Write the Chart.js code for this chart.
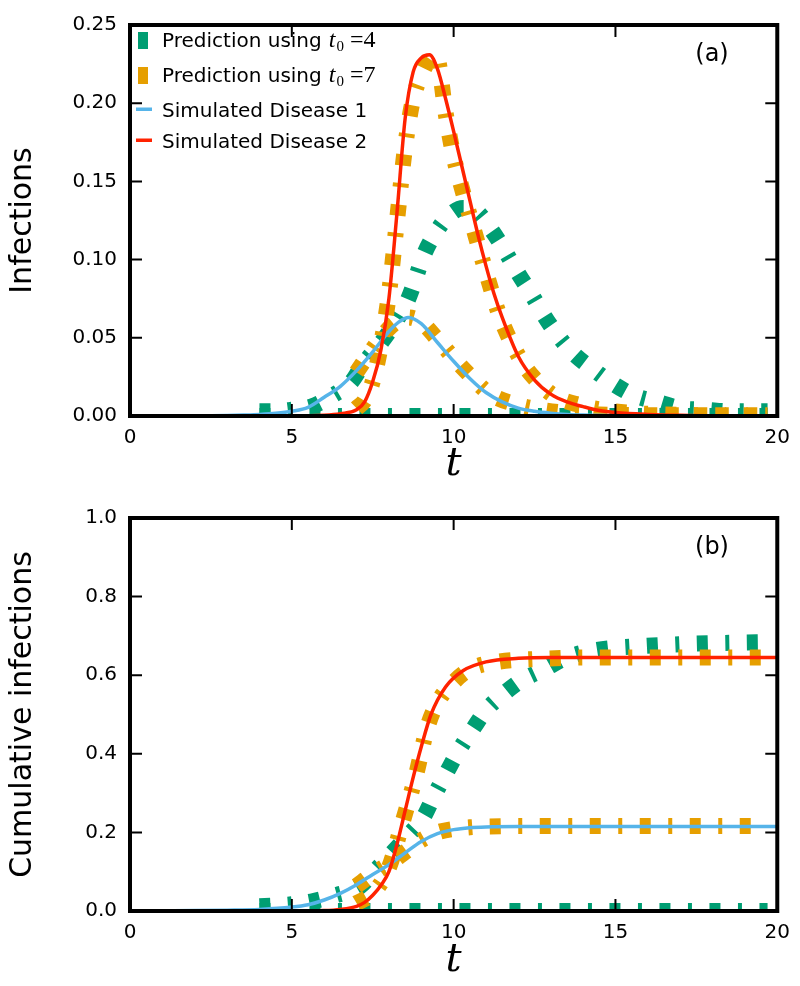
<!DOCTYPE html>
<html>
<head>
<meta charset="utf-8">
<script src="https://cdn.jsdelivr.net/npm/chart.js@4.4.1/dist/chart.umd.min.js"></script>
<style>
  body { margin: 0; background: #fff; }
  canvas { position: absolute; left: 0; }
</style>
</head>
<body>
<canvas id="panelA" width="800" height="493" style="top:0px"></canvas>
<canvas id="panelB" width="800" height="493" style="top:493px"></canvas>
<script>
// colours
const teal = '#009E73';
const orange = '#E69F00';
const blue = '#56B4E9';
const red = '#FF2200';

// axis ticks
const xTickVals = [0, 5, 10, 15, 20];
const yTickValsA = [0, 0.05, 0.1, 0.15, 0.2, 0.25];
const yTickValsB = [0, 0.2, 0.4, 0.6, 0.8, 1.0];

// (a) infections
const tSim1 = [0, 1, 2, 2.5, 3, 3.5, 4, 4.5, 5, 5.5, 6, 6.5, 7, 7.5, 8, 8.3, 8.6, 9, 9.5, 10, 10.5, 11, 11.5, 12, 12.5, 13, 13.5, 14, 15, 16, 18, 20];
const infSim1 = [0, 0, 0, 0.0001, 0.0003, 0.0006, 0.001, 0.0017, 0.003, 0.0055, 0.012, 0.019, 0.029, 0.041, 0.054, 0.060, 0.063, 0.059, 0.047, 0.035, 0.024, 0.015, 0.009, 0.005, 0.003, 0.0018, 0.001, 0.0006, 0.0002, 0.0001, 0, 0];

const tSim2 = [0, 5, 6, 6.5, 7, 7.25, 7.5, 7.75, 8, 8.25, 8.5, 8.75, 9, 9.25, 9.5, 9.75, 10, 10.25, 10.5, 10.75, 11, 11.25, 11.5, 12, 12.5, 13, 13.5, 14, 14.5, 15, 16, 17, 18, 20];
const infSim2 = [0, 0, 0.0005, 0.0015, 0.004, 0.009, 0.022, 0.042, 0.075, 0.13, 0.19, 0.22, 0.229, 0.231, 0.222, 0.203, 0.182, 0.160, 0.138, 0.116, 0.096, 0.078, 0.063, 0.038, 0.023, 0.014, 0.009, 0.006, 0.0035, 0.0022, 0.001, 0.0004, 0.0002, 0];

const tPred4 = [4, 4.5, 5, 5.6, 6.25, 6.85, 7.2, 7.8, 8.2, 8.6, 9.1, 9.5, 9.9, 10.3, 10.7, 11.2, 11.6, 12.0, 12.4, 12.8, 13.2, 13.7, 14.3, 14.9, 15.6, 16.3, 17.0, 17.8, 18.5, 19.2, 19.7];
const infPred4 = [0.003, 0.003, 0.004, 0.006, 0.013, 0.022, 0.033, 0.048, 0.060, 0.075, 0.104, 0.119, 0.129, 0.133, 0.131, 0.118, 0.105, 0.091, 0.078, 0.064, 0.052, 0.040, 0.030, 0.021, 0.013, 0.009, 0.005, 0.004, 0.003, 0.003, 0.003];

const tPred4Zero = [4, 8, 12, 16, 19.7];
const infPred4Zero = [0, 0, 0, 0, 0];

const tPred7a = [7, 7.5, 8, 8.3, 8.6, 9, 9.5, 10, 10.5, 11, 11.3, 12, 12.7, 13.5, 14.5, 16, 18, 19.7];
const infPred7a = [0.028, 0.043, 0.056, 0.061, 0.063, 0.060, 0.049, 0.037, 0.026, 0.016, 0.012, 0.007, 0.004, 0.002, 0.001, 0.0005, 0.0005, 0.0005];

const tPred7b = [7, 7.25, 7.5, 7.75, 8, 8.25, 8.5, 8.75, 9, 9.25, 9.4, 9.5, 9.75, 10, 10.25, 10.5, 10.75, 11, 11.44, 12.1, 12.5, 13.1, 13.9, 14.6, 15.5, 16.5, 18, 19.7];
const infPred7b = [0.005, 0.010, 0.022, 0.045, 0.078, 0.125, 0.172, 0.203, 0.218, 0.228, 0.231, 0.229, 0.194, 0.166, 0.146, 0.128, 0.110, 0.092, 0.063, 0.035, 0.024, 0.013, 0.007, 0.004, 0.002, 0.001, 0.0005, 0.0005];

// (b) cumulative infections
const tCum1 = [0, 2, 3, 4, 5, 5.5, 6, 6.5, 7, 7.5, 8, 8.5, 9, 9.5, 10, 10.5, 11, 12, 20];
const cumSim1 = [0, 0.001, 0.002, 0.004, 0.010, 0.016, 0.028, 0.045, 0.067, 0.093, 0.118, 0.148, 0.177, 0.197, 0.207, 0.212, 0.214, 0.215, 0.215];

const tCum2 = [0, 5, 6, 6.5, 7, 7.25, 7.5, 7.75, 8, 8.25, 8.5, 8.75, 9, 9.3, 9.75, 10.3, 11, 12, 13, 20];
const cumSim2 = [0, 0, 0.001, 0.004, 0.012, 0.022, 0.04, 0.065, 0.1, 0.17, 0.255, 0.34, 0.418, 0.5, 0.57, 0.612, 0.634, 0.643, 0.645, 0.645];

const tCumPred4 = [4, 4.5, 5, 5.6, 6.35, 7.1, 7.6, 8.1, 8.6, 9.07, 9.4, 9.78, 10.17, 10.61, 11.0, 11.55, 12.1, 12.82, 13.49, 14.26, 15.0, 15.8, 17.35, 18.9, 19.7];
const cumPred4 = [0.012, 0.014, 0.017, 0.024, 0.04, 0.062, 0.105, 0.148, 0.193, 0.239, 0.294, 0.352, 0.41, 0.465, 0.511, 0.553, 0.587, 0.616, 0.645, 0.662, 0.670, 0.674, 0.680, 0.683, 0.684];

const tCumPred4Zero = [4, 8, 12, 16, 19.7];
const cumPred4Zero = [0, 0, 0, 0, 0];

const tCumPred7a = [7, 7.5, 8, 8.5, 9, 9.5, 10, 10.5, 11, 12, 19.7];
const cumPred7a = [0.064, 0.094, 0.12, 0.15, 0.18, 0.2, 0.209, 0.213, 0.215, 0.216, 0.216];

const tCumPred7b = [7, 7.5, 8, 8.4, 8.85, 9.18, 9.5, 9.95, 10.5, 11.28, 12.82, 14, 19.7];
const cumPred7b = [0.02, 0.045, 0.11, 0.22, 0.35, 0.465, 0.53, 0.578, 0.615, 0.633, 0.642, 0.645, 0.645];

const pts = (ts, vs) => ts.map((t, i) => ({ x: t, y: vs[i] }));

// thick dash-dot look: block, gap, thin tick, gap
const predDash = [11, 17.5, 4, 17.5];

function predSet(color, ts, vs, order) {
    return {
        data: pts(ts, vs),
        borderColor: color,
        borderWidth: 16,
        borderDash: predDash,
        borderCapStyle: 'butt',
        order: order
    };
}

function simSet(color, ts, vs, order) {
    return {
        data: pts(ts, vs),
        borderColor: color,
        borderWidth: 3.5,
        order: order
    };
}

const legendRows = [
    { kind: 'block', color: teal, text: 'Prediction using', sub: '4' },
    { kind: 'block', color: orange, text: 'Prediction using', sub: '7' },
    { kind: 'line', color: blue, text: 'Simulated Disease 1' },
    { kind: 'line', color: red, text: 'Simulated Disease 2' }
];
const legendBaselines = [47, 82, 117, 148];

// frame, inward ticks, panel tag and legend
const framePlugin = {
    id: 'frame',
    afterDatasetsDraw(chart, args, opts) {
        const { ctx, chartArea: a, scales: { x, y } } = chart;
        ctx.save();
        ctx.strokeStyle = '#000';
        ctx.lineWidth = 2;
        const len = 12;
        x.ticks.forEach(t => {
            const px = x.getPixelForValue(t.value);
            ctx.beginPath();
            ctx.moveTo(px, a.bottom); ctx.lineTo(px, a.bottom - len);
            ctx.moveTo(px, a.top); ctx.lineTo(px, a.top + len);
            ctx.stroke();
        });
        y.ticks.forEach(t => {
            const py = y.getPixelForValue(t.value);
            ctx.beginPath();
            ctx.moveTo(a.left, py); ctx.lineTo(a.left + len, py);
            ctx.moveTo(a.right, py); ctx.lineTo(a.right - len, py);
            ctx.stroke();
        });
        ctx.lineWidth = 4;
        ctx.strokeRect(a.left, a.top, a.right - a.left, a.bottom - a.top);

        ctx.fillStyle = '#000';
        ctx.font = '24px "DejaVu Sans"';
        ctx.textAlign = 'center';
        ctx.textBaseline = 'middle';
        ctx.fillText(opts.tag, 712, a.top + 30);

        if (opts.legend) {
            ctx.textAlign = 'left';
            ctx.textBaseline = 'alphabetic';
            legendRows.forEach((row, i) => {
                const base = legendBaselines[i];
                ctx.fillStyle = row.color;
                if (row.kind === 'block') {
                    ctx.fillRect(138, base - 15, 10, 17);
                } else {
                    ctx.fillRect(136, base - 9.5, 16, 3.5);
                }
                ctx.fillStyle = '#000';
                ctx.font = '20px "DejaVu Sans"';
                ctx.fillText(row.text, 162, base);
                if (row.sub) {
                    let px = 162 + ctx.measureText(row.text).width + 7;
                    ctx.font = 'italic 24px "Liberation Serif"';
                    ctx.fillText('t', px, base);
                    px += ctx.measureText('t').width + 1;
                    ctx.font = '15px "Liberation Serif"';
                    ctx.fillText('0', px, base + 4);
                    px += ctx.measureText('0').width + 6;
                    ctx.font = '24px "Liberation Serif"';
                    ctx.fillText('=' + row.sub, px, base);
                }
            });
        }
        ctx.restore();
    }
};

function makePanel(id, datasets, yTicks, yMax, yTitle, digits, tag, legend, top, xHeight, tPad) {
    return new Chart(document.getElementById(id), {
        type: 'line',
        data: { datasets: datasets },
        plugins: [framePlugin],
        options: {
            responsive: false,
            animation: false,
            layout: { padding: { top: top, right: 21, left: 0, bottom: 0 } },
            elements: {
                point: { radius: 0 },
                line: { cubicInterpolationMode: 'monotone', fill: false }
            },
            datasets: { line: { clip: 0 } },
            scales: {
                x: {
                    type: 'linear',
                    min: 0,
                    max: 20,
                    afterBuildTicks: s => { s.ticks = xTickVals.map(v => ({ value: v })); },
                    afterFit: s => { s.height = xHeight; },
                    grid: { display: false, drawTicks: false },
                    border: { display: false },
                    ticks: {
                        color: '#000',
                        padding: 10,
                        maxRotation: 0,
                        font: { family: 'DejaVu Sans', size: 20 },
                        callback: v => String(v)
                    },
                    title: {
                        display: true,
                        text: 't',
                        color: '#000',
                        font: { family: 'DejaVu Serif', style: 'italic', size: 40, lineHeight: 1 },
                        padding: { top: 0, bottom: tPad }
                    }
                },
                y: {
                    min: 0,
                    max: yMax,
                    afterBuildTicks: s => { s.ticks = yTicks.map(v => ({ value: v })); },
                    afterFit: s => { s.width = 130; },
                    grid: { display: false, drawTicks: false },
                    border: { display: false },
                    ticks: {
                        color: '#000',
                        padding: 13,
                        font: { family: 'DejaVu Sans', size: 20 },
                        callback: v => Number(v).toFixed(digits)
                    },
                    title: {
                        display: true,
                        text: yTitle,
                        color: '#000',
                        font: { family: 'DejaVu Sans', size: 30, lineHeight: 1 },
                        padding: { top: 8, bottom: 0 }
                    }
                }
            },
            plugins: {
                legend: { display: false },
                tooltip: { enabled: false },
                frame: { tag: tag, legend: legend }
            }
        }
    });
}

makePanel('panelA', [
    simSet(red, tSim2, infSim2, 1),
    simSet(blue, tSim1, infSim1, 2),
    predSet(orange, tPred7b, infPred7b, 3),
    predSet(orange, tPred7a, infPred7a, 3),
    predSet(teal, tPred4, infPred4, 4),
    predSet(teal, tPred4Zero, infPred4Zero, 4)
], yTickValsA, 0.25, 'Infections', 2, '(a)', true, 17, 77, 8);

makePanel('panelB', [
    simSet(red, tCum2, cumSim2, 1),
    simSet(blue, tCum1, cumSim1, 2),
    predSet(orange, tCumPred7b, cumPred7b, 3),
    predSet(orange, tCumPred7a, cumPred7a, 3),
    predSet(teal, tCumPred4, cumPred4, 4),
    predSet(teal, tCumPred4Zero, cumPred4Zero, 4)
], yTickValsB, 1.0, 'Cumulative infections', 1, '(b)', false, 19, 75, 5);
</script>
</body>
</html>
